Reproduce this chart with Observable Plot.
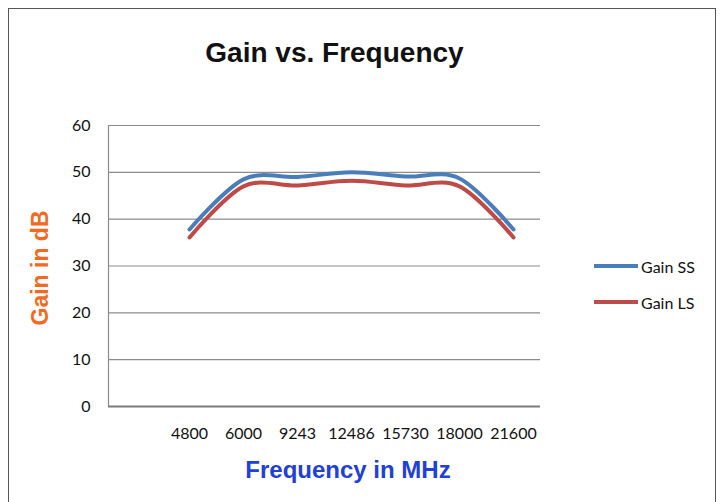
<!DOCTYPE html>
<html>
<head>
<meta charset="utf-8">
<script src="https://cdn.jsdelivr.net/npm/d3@7"></script>
<script src="https://cdn.jsdelivr.net/npm/@observablehq/plot@0.6"></script>
<style>
  html, body { margin: 0; padding: 0; background: #fff; }
  #wrap { position: relative; width: 725px; height: 502px; overflow: hidden; background: #fff; }
  #frame { position: absolute; left: 8px; top: 8px; width: 708px; height: 500px; border: 1.5px solid #555; box-sizing: border-box; }
  #chart { position: absolute; left: 0; top: 0; }
  .title { position: absolute; left: 0; width: 669px; top: 37px; text-align: center; font-family: "Liberation Sans", Arial, sans-serif; font-weight: bold; font-size: 28px; color: #111; }
  .ylab { position: absolute; left: 40px; top: 268px; transform: translate(-50%, -50%) rotate(-90deg); font-family: "Liberation Sans", Arial, sans-serif; font-weight: bold; font-size: 23px; color: #f26a1f; white-space: nowrap; }
  .xlab { position: absolute; left: 348px; top: 470px; transform: translate(-50%, -50%); font-family: "Liberation Sans", Arial, sans-serif; font-weight: bold; font-size: 24px; color: #2040d8; white-space: nowrap; }
  .legend { position: absolute; left: 594px; top: 254px; font-family: Lato, "Open Sans", sans-serif; font-size: 16px; color: #111; }
  .legend .item { display: flex; align-items: center; height: 24px; margin-bottom: 12px; }
  .legend .sw { width: 44px; height: 4px; margin-right: 3px; }
</style>
</head>
<body>
<div id="wrap">
  <div id="frame"></div>
  <div id="chart"></div>
  <div class="title">Gain vs. Frequency</div>
  <div class="ylab">Gain in dB</div>
  <div class="xlab">Frequency in MHz</div>
  <div class="legend" id="legend"></div>
</div>
<script>
// Data
const categories = ["4800", "6000", "9243", "12486", "15730", "18000", "21600"];
const gainSS = [37.8, 48.5, 49.0, 50.0, 49.1, 48.7, 37.8];
const gainLS = [36.1, 47.0, 47.2, 48.2, 47.2, 47.0, 36.1];
const seriesNames = ["Gain SS", "Gain LS"];
const seriesColors = ["#4a7ebb", "#be4b48"];
const yTicks = [0, 10, 20, 30, 40, 50, 60];

const rows = [];
categories.forEach((c, i) => {
  rows.push({cat: c, value: gainSS[i], series: seriesNames[0]});
  rows.push({cat: c, value: gainLS[i], series: seriesNames[1]});
});

// leading empty category (Excel category axis leaves a blank slot)
const xDomain = [""].concat(categories);

const plot = Plot.plot({
  width: 725,
  height: 502,
  marginLeft: 108,
  marginRight: 185,
  marginTop: 125,
  marginBottom: 96,
  style: {fontFamily: "Lato, 'Open Sans', sans-serif", fontSize: "16px", color: "#111", background: "transparent"},
  x: {type: "point", domain: xDomain, padding: 0.5, label: null},
  y: {domain: [0, 60], label: null},
  color: {domain: seriesNames, range: seriesColors},
  marks: [
    Plot.ruleY(yTicks.filter(d => d > 0), {stroke: "#8c8c8c", strokeWidth: 1.2}),
    Plot.frame({anchor: "left", stroke: "#8c8c8c", strokeWidth: 1.2}),
    Plot.ruleY([0], {stroke: "#7a7a7a", strokeWidth: 2}),
    Plot.axisY({ticks: yTicks, tickSize: 0, tickPadding: 18, fontSize: 16, label: null}),
    Plot.axisX({tickSize: 0, tickPadding: 21, fontSize: 16, label: null}),
    Plot.line(rows, {x: "cat", y: "value", z: "series", stroke: "series", strokeWidth: 4, curve: "cardinal", strokeLinecap: "round"})
  ]
});
document.getElementById("chart").appendChild(plot);

const leg = document.getElementById("legend");
seriesNames.forEach((n, i) => {
  const item = document.createElement("div");
  item.className = "item";
  const sw = document.createElement("div");
  sw.className = "sw";
  sw.style.background = seriesColors[i];
  const t = document.createElement("span");
  t.textContent = n;
  item.appendChild(sw);
  item.appendChild(t);
  leg.appendChild(item);
});
</script>
</body>
</html>
